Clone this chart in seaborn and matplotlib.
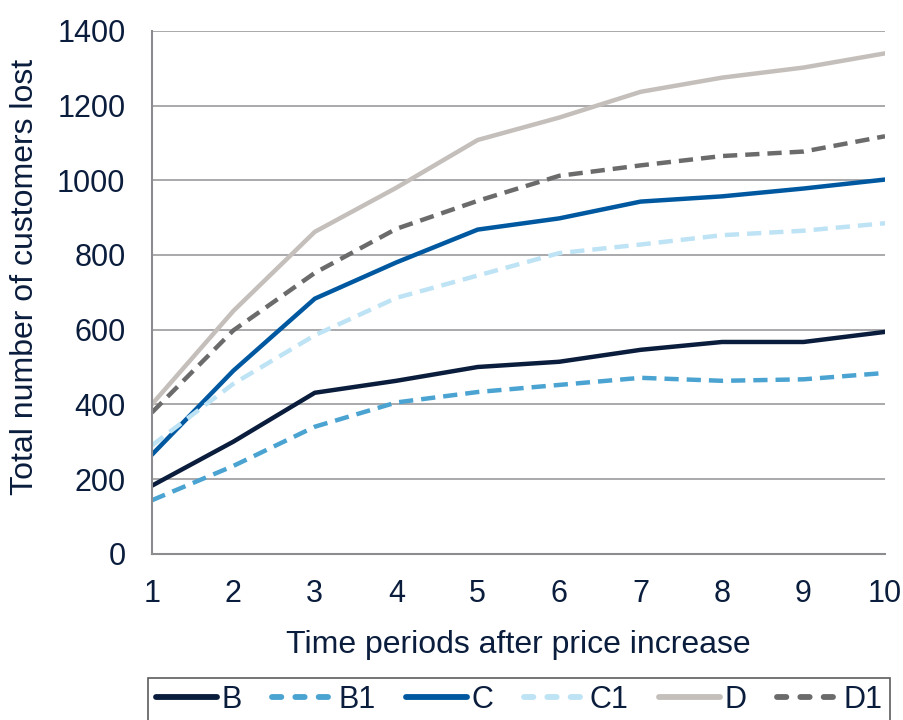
import pandas as pd
import numpy as np
import matplotlib
matplotlib.use("Agg")
import matplotlib.pyplot as plt
import seaborn as sns

periods = [1, 2, 3, 4, 5, 6, 7, 8, 9, 10]
b_vals = [182, 300, 431, 463, 500, 514, 546, 567, 567, 594]
b1_vals = [143, 235, 340, 405, 433, 452, 471, 463, 467, 484]
c_vals = [265, 490, 683, 780, 868, 898, 943, 957, 978, 1002]
c1_vals = [290, 455, 585, 685, 745, 805, 828, 853, 865, 885]
d_vals = [400, 650, 862, 980, 1108, 1168, 1237, 1275, 1302, 1340]
d1_vals = [378, 598, 752, 870, 945, 1012, 1040, 1065, 1077, 1118]
series_names = ["B", "B1", "C", "C1", "D", "D1"]

df = pd.DataFrame({"period": periods, "B": b_vals, "B1": b1_vals, "C": c_vals,
                   "C1": c1_vals, "D": d_vals, "D1": d1_vals})
long_df = df.melt(id_vars="period", var_name="series", value_name="lost")

sns.set_theme(style="white")
plt.rcParams['font.family'] = ['Liberation Sans', 'DejaVu Sans']

palette = {"B": "#0b1d3d", "B1": "#4aa3d1", "C": "#0059a0",
           "C1": "#bde3f5", "D": "#c4bfbb", "D1": "#6b6b6b"}
dash_pat = (3.2, 1.8)
dashes = {"B": "", "B1": dash_pat, "C": "", "C1": dash_pat, "D": "", "D1": dash_pat}
text_color = "#0b1d3d"
axis_grey = "#8c8c90"
fsize = 22

fig = plt.figure(figsize=(9.04, 7.2), dpi=100)
ax = fig.add_axes([0.168, 0.231, 0.811, 0.726])

sns.lineplot(data=long_df, x="period", y="lost", hue="series", style="series",
             hue_order=series_names, style_order=series_names,
             palette=palette, dashes=dashes, linewidth=3.2, ax=ax, legend=False)

ax.set_xlim(1, 10)
ax.set_ylim(0, 1400)
ax.set_xticks(periods)
ax.set_yticks(range(0, 1401, 200))
ax.yaxis.grid(True, color="#a2a2a6", linewidth=1.3)
ax.set_axisbelow(True)
for side in ["top", "right"]:
    ax.spines[side].set_visible(False)
ax.spines["left"].set_color(axis_grey)
ax.spines["bottom"].set_color(axis_grey)
ax.spines["left"].set_linewidth(1.5)
ax.spines["bottom"].set_linewidth(1.5)
ax.tick_params(axis="both", colors=axis_grey, labelcolor=text_color, labelsize=fsize,
               length=7, width=1.3, direction="out")
ax.tick_params(axis="y", pad=12)
ax.tick_params(axis="x", pad=11)
ax.set_xlabel("Time periods after price increase", fontsize=23, color=text_color, labelpad=15)
ax.set_ylabel("Total number of customers lost", fontsize=23, color=text_color)
# the y label sits a little above the middle of the axis
ax.yaxis.set_label_coords(-0.152, 0.53)

handles = []
for name in series_names:
    ls = "-" if dashes[name] == "" else (0, (1.6, 2.4))
    h, = ax.plot([], [], color=palette[name], linewidth=4.2, linestyle=ls,
                 solid_capstyle="round", dash_capstyle="round")
    handles.append(h)
leg = fig.legend(handles, series_names, loc="upper left", bbox_to_anchor=(0.164, 0.059),
                 ncol=6, fontsize=fsize, frameon=True, fancybox=False, handlelength=2.0,
                 handletextpad=0.15, columnspacing=1.0, borderpad=0.25, borderaxespad=0)
leg.get_frame().set_edgecolor("#333333")
leg.get_frame().set_linewidth(1.2)
for t in leg.get_texts():
    t.set_color(text_color)

fig.savefig("out.png", dpi=100)
